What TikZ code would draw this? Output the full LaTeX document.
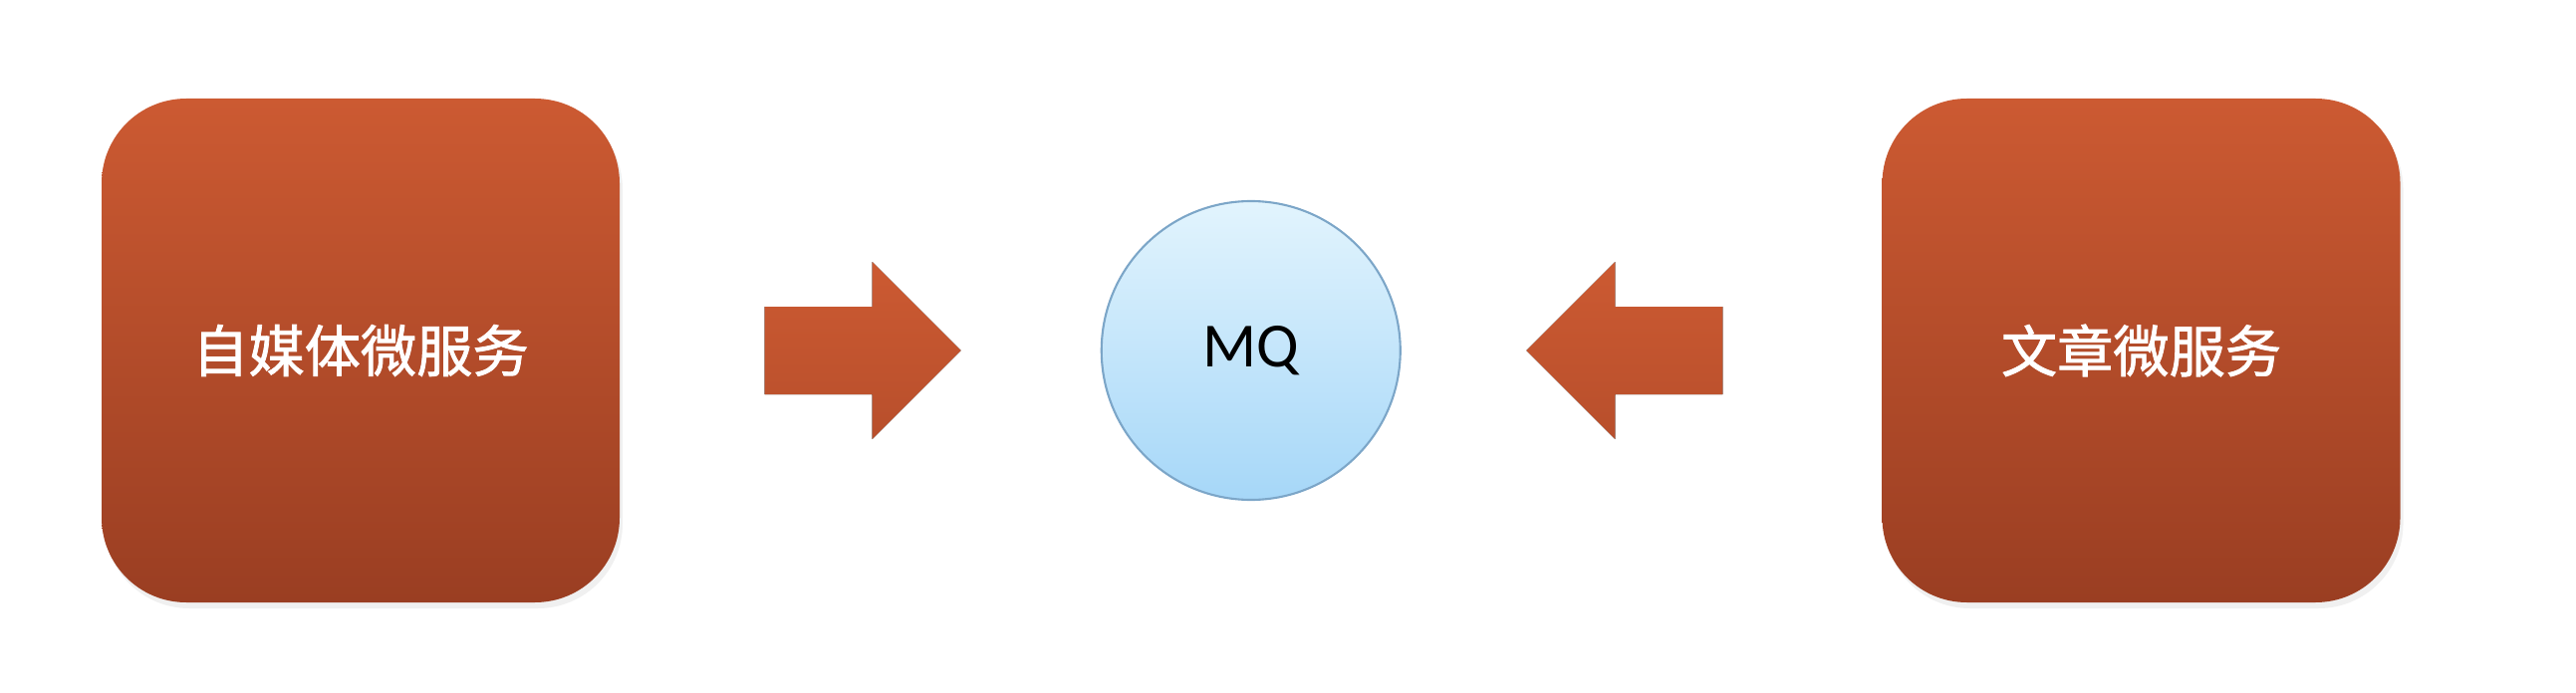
\documentclass[tikz,border=0pt]{standalone}
\usepackage{fontspec}
\setmainfont{Carlito}
\newfontfamily\cjk[FakeBold=1.4]{Noto Sans CJK SC}
\usepackage{xcolor}
\usetikzlibrary{positioning, calc, shadows}

\definecolor{boxtop}{HTML}{CC5A32}
\definecolor{boxbot}{HTML}{9A3E22}
\definecolor{mqtop}{HTML}{E2F4FD}
\definecolor{mqbot}{HTML}{A6D7F8}
\definecolor{mqline}{HTML}{7CA6C8}

\begin{document}
\begin{tikzpicture}[node distance=4.82cm,
  service/.style={rounded corners=0.85cm, minimum width=5.2cm, minimum height=5.06cm,
                  top color=boxtop, bottom color=boxbot, text=white,
                  font=\cjk\fontsize{16}{19}\selectfont,
                  drop shadow={shadow xshift=0.03cm, shadow yshift=-0.06cm, opacity=0.12}},
  queue/.style={circle, minimum size=3cm, inner sep=0pt, draw=mqline, line width=0.6pt,
                top color=mqtop, bottom color=mqbot, font=\fontsize{18}{21}\selectfont},
  blockarrow/.style={top color=boxtop, bottom color=boxtop!60!boxbot}]
  \useasboundingbox (0,0) rectangle (25.86,-6.96);
  \node[service] (selfmedia) at (3.62,-3.52) {自媒体微服务};
  \node[queue, right=of selfmedia] (mq) {MQ};
  \node[service, right=of mq] (article) {文章微服务};
  % block arrows into the queue
  \coordinate (inL) at ($(selfmedia.east)!0.505!(mq.west)$);
  \coordinate (inR) at ($(mq.east)!0.465!(article.west)$);
  \fill[blockarrow] ($(inL)+(-0.985,0.44)$) -- ++(1.08,0) -- ++(0,0.45) -- ++(0.89,-0.89)
    -- ++(-0.89,-0.89) -- ++(0,0.45) -- ++(-1.08,0) -- cycle;
  \fill[blockarrow] ($(inR)+(0.985,0.44)$) -- ++(-1.08,0) -- ++(0,0.45) -- ++(-0.89,-0.89)
    -- ++(0.89,-0.89) -- ++(0,0.45) -- ++(1.08,0) -- cycle;
\end{tikzpicture}
\end{document}
